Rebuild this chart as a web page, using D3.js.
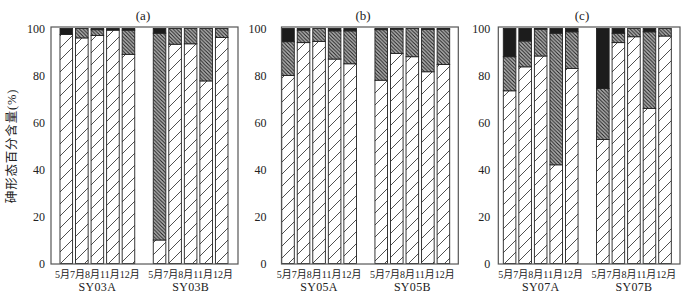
<!DOCTYPE html>
<html>
<head>
<meta charset="utf-8">
<script src="https://cdn.jsdelivr.net/npm/d3@7"></script>
<style>
  body { margin: 0; background: #fff; }
  text { font-family: "Liberation Serif", "Noto Sans CJK SC", serif; fill: #222; }
</style>
</head>
<body>
<script>
// chart values (percent of each species)
var months = ['5月', '7月', '8月', '11月', '12月'];
var panelTitles = ['(a)', '(b)', '(c)'];
var sites = [['SY03A', 'SY03B'], ['SY05A', 'SY05B'], ['SY07A', 'SY07B']];
var yTicks = [0, 20, 40, 60, 80, 100];

// bottom segment: sparse hatch
var sparse = [
    [[97.5, 96, 97, 99.3, 89], [10, 93.3, 93.5, 77.7, 96.2]],
    [[80, 94, 94.5, 87, 85], [78, 89.4, 88, 81.6, 84.7]],
    [[73.5, 83.7, 88.3, 42, 83], [52.8, 94, 96.5, 66, 96.8]]
];
// middle segment: dense grey hatch
var dense = [
    [[0, 4, 2.5, 0, 10.3], [88, 6.7, 6.5, 22.3, 3.8]],
    [[14.4, 5.3, 5.5, 12, 14], [21.5, 10.3, 12, 18, 15]],
    [[14.5, 11, 11.4, 56, 15.6], [21.7, 4, 3.5, 32.6, 3.2]]
];
// top segment: solid black
var solid = [
    [[2.5, 0, 0.5, 0.7, 0.7], [2, 0, 0, 0, 0]],
    [[5.6, 0.7, 0, 1, 1], [0.5, 0.3, 0, 0.4, 0.3]],
    [[12, 5.3, 0.3, 2, 1.4], [25.5, 2, 0, 1.4, 0]]
];

var width = 689, height = 300;

// frame edges and first bar of each panel
var frameLeft = [51, 281.5, 498.3],
    frameRight = [238, 458.3, 680],
    barStart = [60, 281.7, 503.3],
    tickPad = [6, 15, 8],
    titleX = [143, 363, 582];
var barSpan = 168;

var svg = d3.select('body')
    .append('svg')
    .attr('width', width)
    .attr('height', height);

var defs = svg.append('defs');

var pSparse = defs.append('pattern')
    .attr('id', 'sparse')
    .attr('patternUnits', 'userSpaceOnUse')
    .attr('width', 12)
    .attr('height', 12);
pSparse.append('rect').attr('width', 12).attr('height', 12).attr('fill', '#fff');
pSparse.append('path')
    .attr('d', 'M-3,3L3,-3M0,12L12,0M9,15L15,9')
    .attr('stroke', '#222')
    .attr('stroke-width', 0.8);

var pDense = defs.append('pattern')
    .attr('id', 'dense')
    .attr('patternUnits', 'userSpaceOnUse')
    .attr('width', 3.6)
    .attr('height', 3.6);
pDense.append('rect').attr('width', 3.6).attr('height', 3.6).attr('fill', '#b0b0b0');
pDense.append('path')
    .attr('d', 'M-1,-1L4.6,4.6M-1,2.6L1,4.6M2.6,-1L4.6,1')
    .attr('stroke', '#1e1e1e')
    .attr('stroke-width', 1);

var y = d3.scaleLinear()
    .domain([0, 100])
    .range([263.5, 28.5]);

// 11 slots: 5 bars, an empty slot, 5 bars
var slots = d3.range(11);

var fills = ['url(#sparse)', 'url(#dense)', '#1c1c1c'];

panelTitles.forEach(function(title, p) {
    var g = svg.append('g');

    var x = d3.scaleBand()
        .domain(slots)
        .range([barStart[p], barStart[p] + barSpan])
        .paddingInner(0.19)
        .paddingOuter(0);

    var bars = [];
    sites[p].forEach(function(site, s) {
        months.forEach(function(m, i) {
            var vals = [sparse[p][s][i], dense[p][s][i], solid[p][s][i]];
            var base = 0;
            vals.forEach(function(v, k) {
                if (v > 0) {
                    bars.push({slot: s * 6 + i, y0: base, y1: base + v, k: k});
                }
                base += v;
            });
        });
    });

    g.selectAll('.seg')
        .data(bars)
        .enter()
        .append('rect')
        .attr('class', 'seg')
        .attr('x', function(d) { return x(d.slot); })
        .attr('width', x.bandwidth())
        .attr('y', function(d) { return y(Math.min(d.y1, 100)); })
        .attr('height', function(d) { return y(d.y0) - y(Math.min(d.y1, 100)); })
        .attr('fill', function(d) { return fills[d.k]; })
        .attr('stroke', '#222')
        .attr('stroke-width', 0.9);

    // frame
    g.append('rect')
        .attr('x', frameLeft[p])
        .attr('y', y(100) - 1.5)
        .attr('width', frameRight[p] - frameLeft[p])
        .attr('height', y(0) - y(100) + 2)
        .attr('fill', 'none')
        .attr('stroke', '#555')
        .attr('stroke-width', 1.2);

    // y axis labels
    var yAxis = g.append('g')
        .attr('transform', 'translate(' + frameLeft[p] + ',0)')
        .call(d3.axisLeft(y).tickValues(yTicks).tickSize(0).tickPadding(tickPad[p]));
    yAxis.select('.domain').remove();
    yAxis.selectAll('text')
        .style('font-family', '"Liberation Serif", serif')
        .style('font-size', '12px')
        .attr('fill', '#333');

    // panel title
    g.append('text')
        .attr('x', titleX[p])
        .attr('y', 19.5)
        .attr('text-anchor', 'middle')
        .style('font-size', '13px')
        .text(title);

    // month labels and site names
    sites[p].forEach(function(site, s) {
        var cx = (x(s * 6) + x(s * 6 + 4) + x.bandwidth()) / 2;
        var t = g.append('text')
            .attr('x', cx)
            .attr('y', 278)
            .attr('text-anchor', 'middle')
            .style('font-size', '10px');
        months.forEach(function(m) {
            t.append('tspan').text(m);
        });
        g.append('text')
            .attr('x', cx)
            .attr('y', 290.5)
            .attr('text-anchor', 'middle')
            .style('font-size', '12px')
            .style('letter-spacing', '0.3px')
            .text(site);
    });
});

svg.append('text')
    .attr('transform', 'translate(16,146) rotate(-90)')
    .attr('text-anchor', 'middle')
    .style('font-size', '12.5px')
    .style('letter-spacing', '0.8px')
    .attr('fill', '#444')
    .text('砷形态百分含量(%)');
</script>
</body>
</html>
